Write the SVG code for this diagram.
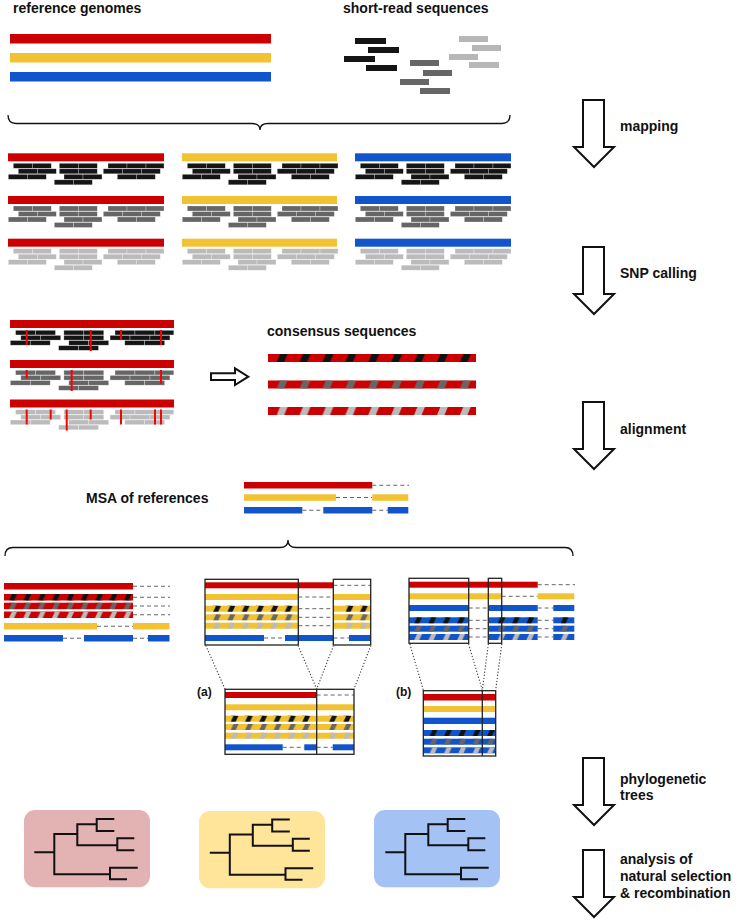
<svg xmlns="http://www.w3.org/2000/svg" width="742" height="920" viewBox="0 0 742 920">
<style>
text{font-family:"Liberation Sans",Arial,sans-serif;font-weight:bold;font-size:14px;fill:#111}
.lb{font-size:12px}
.R{fill:#cc0000}.Y{fill:#f1c232}.B{fill:#1155cc}
.rd{stroke:#fff;stroke-opacity:.45;stroke-width:.6}
.ds{stroke:#666;stroke-width:1;stroke-dasharray:4 3;fill:none}
.bx{fill:none;stroke:#222;stroke-width:1.3}
.dt{stroke:#444;stroke-width:1.3;stroke-dasharray:0.1 3;stroke-linecap:round;fill:none}
.ar{fill:#fff;stroke:#111;stroke-width:2;stroke-linejoin:miter}
.br{fill:none;stroke:#111;stroke-width:1.3}
.snp{fill:#ff0000}
.tr{fill:none;stroke:#111;stroke-width:2;stroke-linejoin:miter}
.k{fill:#151515}.d{fill:#666}.l{fill:#b7b7b7}
</style>
<defs>
<pattern id="sK" width="14.33" height="6.5" patternUnits="userSpaceOnUse"><polygon points="0,6.5 5,6.5 8,0 3,0" fill="#111"/></pattern>
<pattern id="sD" width="14.33" height="6.5" patternUnits="userSpaceOnUse"><polygon points="0,6.5 5,6.5 8,0 3,0" fill="#666"/></pattern>
<pattern id="sL" width="14.33" height="6.5" patternUnits="userSpaceOnUse"><polygon points="0,6.5 5,6.5 8,0 3,0" fill="#bbb"/></pattern>
<pattern id="bK" width="22.9" height="8" patternUnits="userSpaceOnUse"><polygon points="0,8 7.5,8 10.8,0 3.3,0" fill="#111"/></pattern>
<pattern id="bD" width="22.9" height="8" patternUnits="userSpaceOnUse"><polygon points="0,8 7.5,8 10.8,0 3.3,0" fill="#666"/></pattern>
<pattern id="bL" width="22.9" height="8" patternUnits="userSpaceOnUse"><polygon points="0,8 7.5,8 10.8,0 3.3,0" fill="#bbb"/></pattern>
<g id="rc">
<rect class="rd" x="5.3" y="10" width="19" height="5"/><rect class="rd" x="24.3" y="10" width="19" height="5"/>
<rect class="rd" x="51.3" y="10" width="19" height="5"/><rect class="rd" x="70.3" y="10" width="19" height="5"/>
<rect class="rd" x="100" y="10" width="19" height="5"/><rect class="rd" x="119" y="10" width="19" height="5"/><rect class="rd" x="138" y="10" width="18" height="5"/>
<rect class="rd" x="10.3" y="15.5" width="19" height="5"/><rect class="rd" x="29.3" y="15.5" width="19" height="5"/>
<rect class="rd" x="51.3" y="15.5" width="19" height="5"/><rect class="rd" x="70.3" y="15.5" width="19" height="5"/>
<rect class="rd" x="95.3" y="15.5" width="19" height="5"/><rect class="rd" x="114.3" y="15.5" width="19" height="5"/><rect class="rd" x="133.3" y="15.5" width="19" height="5"/>
<rect class="rd" x="0.3" y="21" width="19" height="5"/><rect class="rd" x="19.3" y="21" width="19" height="5"/>
<rect class="rd" x="56" y="21" width="19" height="5"/><rect class="rd" x="75" y="21" width="19" height="5"/>
<rect class="rd" x="109.3" y="21" width="19" height="5"/><rect class="rd" x="128.3" y="21" width="19" height="5"/>
<rect class="rd" x="46.3" y="26.5" width="19" height="5"/><rect class="rd" x="65.3" y="26.5" width="19" height="5"/>
</g>
<path id="tree" class="tr" d="M34.3,852.3 H54.3 M77.3,834 H54.3 V874.3 H110 M96.7,824.3 H77.3 V845.3 H117.3 M114.3,819 H96.7 V831 H114.3 M134.3,838.3 H117.3 V850.3 H134.3 M137.7,867.7 H110 V879.3 H127"/>
</defs>

<g id="title-references">
<text x="13" y="13">reference genomes</text>
<rect class="R" x="10" y="34" width="261" height="9.5"/>
<rect class="Y" x="10" y="53" width="261" height="9.5"/>
<rect class="B" x="10" y="72" width="261" height="9.5"/>
</g>

<g id="short-reads">
<text x="343" y="13">short-read sequences</text>
<rect class="k" x="355" y="38" width="31" height="6"/>
<rect class="k" x="368" y="47" width="31" height="6"/>
<rect class="k" x="344" y="56" width="31" height="6"/>
<rect class="k" x="366" y="65" width="31" height="6"/>
<rect class="d" x="410" y="60" width="29" height="6"/>
<rect class="d" x="423" y="70" width="29" height="6"/>
<rect class="d" x="400" y="79" width="29" height="6"/>
<rect class="d" x="420" y="88" width="30" height="6"/>
<rect class="l" x="459" y="36" width="29" height="6"/>
<rect class="l" x="472" y="45" width="29" height="6"/>
<rect class="l" x="449" y="54" width="29" height="6"/>
<rect class="l" x="469" y="62" width="30" height="6"/>
</g>

<g id="mapped-reads">
<rect class="R" x="8" y="153.3" width="156" height="8"/>
<rect class="R" x="8" y="196" width="156" height="8"/>
<rect class="R" x="8" y="238.7" width="156" height="8"/>
<rect class="Y" x="182" y="153.3" width="155" height="8"/>
<rect class="Y" x="182" y="196" width="155" height="8"/>
<rect class="Y" x="182" y="238.7" width="155" height="8"/>
<rect class="B" x="355" y="153.3" width="156" height="8"/>
<rect class="B" x="355" y="196" width="156" height="8"/>
<rect class="B" x="355" y="238.7" width="156" height="8"/>
<use href="#rc" transform="translate(8,153.3)" fill="#151515"/>
<use href="#rc" transform="translate(182,153.3)" fill="#151515"/>
<use href="#rc" transform="translate(355,153.3)" fill="#151515"/>
<use href="#rc" transform="translate(8,196)" fill="#666"/>
<use href="#rc" transform="translate(182,196)" fill="#666"/>
<use href="#rc" transform="translate(355,196)" fill="#666"/>
<use href="#rc" transform="translate(8,238.7)" fill="#bbb"/>
<use href="#rc" transform="translate(182,238.7)" fill="#bbb"/>
<use href="#rc" transform="translate(355,238.7)" fill="#bbb"/>
</g>

<g id="snp-calling">
<rect class="R" x="10" y="320" width="164" height="8"/>
<rect class="R" x="10" y="360" width="164" height="8"/>
<rect class="R" x="10" y="399.5" width="164" height="8"/>
<use href="#rc" transform="translate(10,321) scale(1.05,0.93)" fill="#151515"/>
<use href="#rc" transform="translate(10,361) scale(1.05,0.93)" fill="#666"/>
<use href="#rc" transform="translate(10,400.5) scale(1.05,0.93)" fill="#bbb"/>
<rect class="snp" x="25.7" y="330" width="2" height="15"/>
<rect class="snp" x="89.7" y="330" width="2" height="21"/>
<rect class="snp" x="120" y="330" width="2" height="10"/>
<rect class="snp" x="160" y="330" width="2" height="15"/>
<rect class="snp" x="25.7" y="370" width="2" height="8.5"/>
<rect class="snp" x="70.7" y="370" width="2" height="21"/>
<rect class="snp" x="160" y="370" width="2" height="14"/>
<rect class="snp" x="25.7" y="409.5" width="2" height="15"/>
<rect class="snp" x="49.7" y="409.5" width="2" height="10"/>
<rect class="snp" x="65.7" y="409.5" width="2" height="21"/>
<rect class="snp" x="89.7" y="409.5" width="2" height="10"/>
<rect class="snp" x="120" y="409.5" width="2" height="15"/>
<rect class="snp" x="154" y="409.5" width="2" height="15"/>
<rect class="snp" x="160" y="409.5" width="2" height="15"/>
</g>

<g id="to-consensus">
<polygon class="ar" points="211,373.3 235,373.3 235,368.3 248.3,376.7 235,385 235,380 211,380"/>
</g>

<g id="consensus">
<text x="267" y="335.5">consensus sequences</text>
<g transform="translate(276.7,354)"><rect class="R" x="-8.7" width="208" height="8"/><rect width="199.3" height="8" fill="url(#bK)"/></g>
<g transform="translate(276.7,380.5)"><rect class="R" x="-8.7" width="208" height="8"/><rect width="199.3" height="8" fill="url(#bD)"/></g>
<g transform="translate(276.7,407)"><rect class="R" x="-8.7" width="208" height="8"/><rect width="199.3" height="8" fill="url(#bL)"/></g>
</g>

<g id="msa">
<text x="86" y="503">MSA of references</text>
<rect class="R" x="244" y="482" width="128.3" height="6.5"/>
<line class="ds" x1="372.3" y1="485.25" x2="409" y2="485.25"/>
<rect class="Y" x="244" y="494.3" width="92" height="6.5"/>
<line class="ds" x1="336" y1="497.5" x2="372.3" y2="497.5"/>
<rect class="Y" x="372.3" y="494.3" width="36" height="6.5"/>
<rect class="B" x="244" y="507" width="58.3" height="6.5"/>
<line class="ds" x1="302.3" y1="510.25" x2="323.3" y2="510.25"/>
<rect class="B" x="323.3" y="507" width="49" height="6.5"/>
<line class="ds" x1="372.3" y1="510.25" x2="387.7" y2="510.25"/>
<rect class="B" x="387.7" y="507" width="20.6" height="6.5"/>
</g>

<g id="panel-1">
<rect class="R" x="4" y="583" width="129" height="6.5"/>
<line class="ds" x1="133" y1="586.25" x2="170" y2="586.25"/>
<g transform="translate(9,594)"><rect class="R" x="-5" width="129" height="6.5"/><rect width="124" height="6.5" fill="url(#sK)"/></g>
<line class="ds" x1="133" y1="597.25" x2="170" y2="597.25"/>
<g transform="translate(9,602.7)"><rect class="R" x="-5" width="129" height="6.5"/><rect width="124" height="6.5" fill="url(#sD)"/></g>
<line class="ds" x1="133" y1="606" x2="170" y2="606"/>
<g transform="translate(9,611.5)"><rect class="R" x="-5" width="129" height="6.5"/><rect width="124" height="6.5" fill="url(#sL)"/></g>
<line class="ds" x1="133" y1="614.75" x2="170" y2="614.75"/>
<rect class="Y" x="4" y="623" width="93" height="6.5"/>
<line class="ds" x1="97" y1="626.25" x2="133" y2="626.25"/>
<rect class="Y" x="133" y="623" width="36.5" height="6.5"/>
<rect class="B" x="4" y="635" width="59" height="6.5"/>
<line class="ds" x1="63" y1="638.25" x2="84" y2="638.25"/>
<rect class="B" x="84" y="635" width="49" height="6.5"/>
<line class="ds" x1="133" y1="638.25" x2="148" y2="638.25"/>
<rect class="B" x="148" y="635" width="21.5" height="6.5"/>
</g>

<g id="panel-2">
<rect class="R" x="205" y="582.3" width="128.3" height="6"/>
<line class="ds" x1="333.3" y1="585.3" x2="370.7" y2="585.3"/>
<rect class="Y" x="205" y="594" width="93.3" height="6"/>
<line class="ds" x1="298.3" y1="597" x2="333.3" y2="597"/>
<rect class="Y" x="333.3" y="594" width="37.4" height="6"/>
<g transform="translate(213,605.7)"><rect class="Y" x="-8" width="93.3" height="6"/><rect width="85.3" height="6" fill="url(#sK)"/></g>
<line class="ds" x1="298.3" y1="608.7" x2="333.3" y2="608.7"/>
<g transform="translate(345.5,605.7)"><rect class="Y" x="-12.2" width="37.4" height="6"/><rect width="25.2" height="6" fill="url(#sK)"/></g>
<g transform="translate(213,614.3)"><rect class="Y" x="-8" width="93.3" height="6"/><rect width="85.3" height="6" fill="url(#sD)"/></g>
<line class="ds" x1="298.3" y1="617.3" x2="333.3" y2="617.3"/>
<g transform="translate(345.5,614.3)"><rect class="Y" x="-12.2" width="37.4" height="6"/><rect width="25.2" height="6" fill="url(#sD)"/></g>
<g transform="translate(213,622.7)"><rect class="Y" x="-8" width="93.3" height="6"/><rect width="85.3" height="6" fill="url(#sL)"/></g>
<line class="ds" x1="298.3" y1="625.7" x2="333.3" y2="625.7"/>
<g transform="translate(345.5,622.7)"><rect class="Y" x="-12.2" width="37.4" height="6"/><rect width="25.2" height="6" fill="url(#sL)"/></g>
<rect class="B" x="205" y="635" width="59" height="6"/>
<line class="ds" x1="264" y1="638" x2="285" y2="638"/>
<rect class="B" x="285" y="635" width="48.3" height="6"/>
<line class="ds" x1="333.3" y1="638" x2="349" y2="638"/>
<rect class="B" x="349" y="635" width="21.7" height="6"/>
<rect class="bx" x="205" y="579.3" width="93.3" height="65.7"/>
<rect class="bx" x="333.3" y="579.3" width="37.4" height="65.7"/>
</g>

<g id="panel-2-zoom">
<text class="lb" x="197" y="695.5">(a)</text>
<rect class="R" x="225" y="692" width="91.7" height="6"/>
<line class="ds" x1="316.7" y1="695" x2="354" y2="695"/>
<rect class="Y" x="225" y="704.3" width="129" height="6"/>
<g transform="translate(230.5,715.7)"><rect class="Y" x="-5.5" width="91.7" height="6"/><rect width="86.2" height="6" fill="url(#sK)"/></g>
<g transform="translate(329,715.7)"><rect class="Y" x="-12.3" width="37.3" height="6"/><rect width="25" height="6" fill="url(#sK)"/></g>
<g transform="translate(230.5,724)"><rect class="Y" x="-5.5" width="91.7" height="6"/><rect width="86.2" height="6" fill="url(#sD)"/></g>
<g transform="translate(329,724)"><rect class="Y" x="-12.3" width="37.3" height="6"/><rect width="25" height="6" fill="url(#sD)"/></g>
<g transform="translate(230.5,732.7)"><rect class="Y" x="-5.5" width="91.7" height="6"/><rect width="86.2" height="6" fill="url(#sL)"/></g>
<g transform="translate(329,732.7)"><rect class="Y" x="-12.3" width="37.3" height="6"/><rect width="25" height="6" fill="url(#sL)"/></g>
<rect class="B" x="225" y="744.3" width="57.7" height="6"/>
<line class="ds" x1="282.7" y1="747.3" x2="304.3" y2="747.3"/>
<rect class="B" x="304.3" y="744.3" width="12.4" height="6"/>
<line class="ds" x1="316.7" y1="747.3" x2="332.7" y2="747.3"/>
<rect class="B" x="332.7" y="744.3" width="21.3" height="6"/>
<rect class="bx" x="225" y="689.3" width="129" height="65"/>
<line class="bx" x1="316.7" y1="689.3" x2="316.7" y2="754.3"/>
</g>

<g id="panel-3">
<rect class="R" x="409" y="581.7" width="128.7" height="6"/>
<line class="ds" x1="537.7" y1="584.7" x2="575" y2="584.7"/>
<rect class="Y" x="409" y="593.3" width="92.7" height="6"/>
<line class="ds" x1="501.7" y1="596.3" x2="537.7" y2="596.3"/>
<rect class="Y" x="537.7" y="593.3" width="36.6" height="6"/>
<rect class="B" x="409" y="605" width="59.7" height="6"/>
<line class="ds" x1="468.7" y1="608" x2="489" y2="608"/>
<rect class="B" x="489" y="605" width="48.7" height="6"/>
<line class="ds" x1="537.7" y1="608" x2="553.3" y2="608"/>
<rect class="B" x="553.3" y="605" width="21" height="6"/>
<g transform="translate(414,617.3)"><rect class="B" x="-5" width="59.7" height="6"/><rect width="54.7" height="6" fill="url(#sK)"/></g>
<line class="ds" x1="468.7" y1="620.3" x2="489" y2="620.3"/>
<g transform="translate(497.5,617.3)"><rect class="B" x="-8.5" width="48.7" height="6"/><rect width="40.2" height="6" fill="url(#sK)"/></g>
<line class="ds" x1="537.7" y1="620.3" x2="553.3" y2="620.3"/>
<g transform="translate(560.5,617.3)"><rect class="B" x="-7.2" width="21" height="6"/><rect width="13.8" height="6" fill="url(#sK)"/></g>
<g transform="translate(414,625.7)"><rect class="B" x="-5" width="59.7" height="6"/><rect width="54.7" height="6" fill="url(#sD)"/></g>
<line class="ds" x1="468.7" y1="628.7" x2="489" y2="628.7"/>
<g transform="translate(497.5,625.7)"><rect class="B" x="-8.5" width="48.7" height="6"/><rect width="40.2" height="6" fill="url(#sD)"/></g>
<line class="ds" x1="537.7" y1="628.7" x2="553.3" y2="628.7"/>
<g transform="translate(560.5,625.7)"><rect class="B" x="-7.2" width="21" height="6"/><rect width="13.8" height="6" fill="url(#sD)"/></g>
<g transform="translate(414,634)"><rect class="B" x="-5" width="59.7" height="6"/><rect width="54.7" height="6" fill="url(#sL)"/></g>
<line class="ds" x1="468.7" y1="637" x2="489" y2="637"/>
<g transform="translate(497.5,634)"><rect class="B" x="-8.5" width="48.7" height="6"/><rect width="40.2" height="6" fill="url(#sL)"/></g>
<line class="ds" x1="537.7" y1="637" x2="553.3" y2="637"/>
<g transform="translate(560.5,634)"><rect class="B" x="-7.2" width="21" height="6"/><rect width="13.8" height="6" fill="url(#sL)"/></g>
<rect class="bx" x="409" y="578.3" width="59.7" height="65"/>
<rect class="bx" x="488.3" y="578.3" width="13.4" height="65"/>
</g>

<g id="panel-3-zoom">
<text class="lb" x="396" y="696">(b)</text>
<rect class="R" x="423.3" y="694" width="72.4" height="6.5"/>
<rect class="Y" x="423.3" y="706" width="72.4" height="6"/>
<rect class="B" x="423.3" y="717.7" width="72.4" height="6.3"/>
<g transform="translate(429.5,730)"><rect class="B" x="-6.2" width="72.4" height="6"/><rect width="66.2" height="6" fill="url(#sK)"/></g>
<g transform="translate(429.5,738.7)"><rect class="B" x="-6.2" width="72.4" height="6"/><rect width="66.2" height="6" fill="url(#sD)"/></g>
<g transform="translate(429.5,747.3)"><rect class="B" x="-6.2" width="72.4" height="6"/><rect width="66.2" height="6" fill="url(#sL)"/></g>
<rect class="bx" x="423.3" y="690.7" width="72.4" height="65.3"/>
<line class="bx" x1="482.3" y1="690.7" x2="482.3" y2="756"/>
</g>

<g id="connectors">
<path class="br" d="M8,115 Q8,123.5 16,123.5 H252 Q260,123.5 260,130 Q260,123.5 268,123.5 H502 Q510,123.5 510,115"/>
<path class="br" d="M5,556 Q5,547.5 13,547.5 H280 Q288,547.5 288,540 Q288,547.5 296,547.5 H565 Q573,547.5 573,556"/>
<line class="dt" x1="206" y1="646" x2="225" y2="689"/>
<line class="dt" x1="298.3" y1="646" x2="316.7" y2="689"/>
<line class="dt" x1="333.3" y1="646" x2="316.7" y2="689"/>
<line class="dt" x1="370.7" y1="646" x2="354" y2="689"/>
<line class="dt" x1="410" y1="644.5" x2="423.3" y2="690"/>
<line class="dt" x1="468.7" y1="644.5" x2="482.3" y2="690"/>
<line class="dt" x1="488.3" y1="644.5" x2="482.3" y2="690"/>
<line class="dt" x1="501.7" y1="644.5" x2="495.7" y2="690"/>
</g>

<g id="trees">
<rect x="24" y="810" width="126" height="77.3" rx="11" fill="#e3b3b3"/>
<rect x="199" y="811" width="126" height="77.3" rx="11" fill="#ffe599"/>
<rect x="374" y="810" width="126" height="77.3" rx="11" fill="#a4c2f4"/>
<use href="#tree"/>
<use href="#tree" transform="translate(175.5,0.5)"/>
<use href="#tree" transform="translate(351,0)"/>
</g>

<g id="step-mapping">
<polygon class="ar" points="583,100 604,100 604,147 614,147 594,167 574,147 583,147"/>
<text x="620" y="131">mapping</text>
</g>
<g id="step-snp">
<polygon class="ar" points="583,247 604,247 604,294 614,294 594,314 574,294 583,294"/>
<text x="620" y="278">SNP calling</text>
</g>
<g id="step-alignment">
<polygon class="ar" points="583,402 604,402 604,449 614,449 594,469 574,449 583,449"/>
<text x="620" y="434">alignment</text>
</g>
<g id="step-trees">
<polygon class="ar" points="583,758 604,758 604,805 614,805 594,825 574,805 583,805"/>
<text x="620" y="783.5">phylogenetic</text>
<text x="620" y="800">trees</text>
</g>
<g id="step-analysis">
<polygon class="ar" points="583,850 604,850 604,897 614,897 594,917 574,897 583,897"/>
<text x="620" y="864">analysis of</text>
<text x="620" y="881">natural selection</text>
<text x="620" y="898">&amp; recombination</text>
</g>
</svg>
